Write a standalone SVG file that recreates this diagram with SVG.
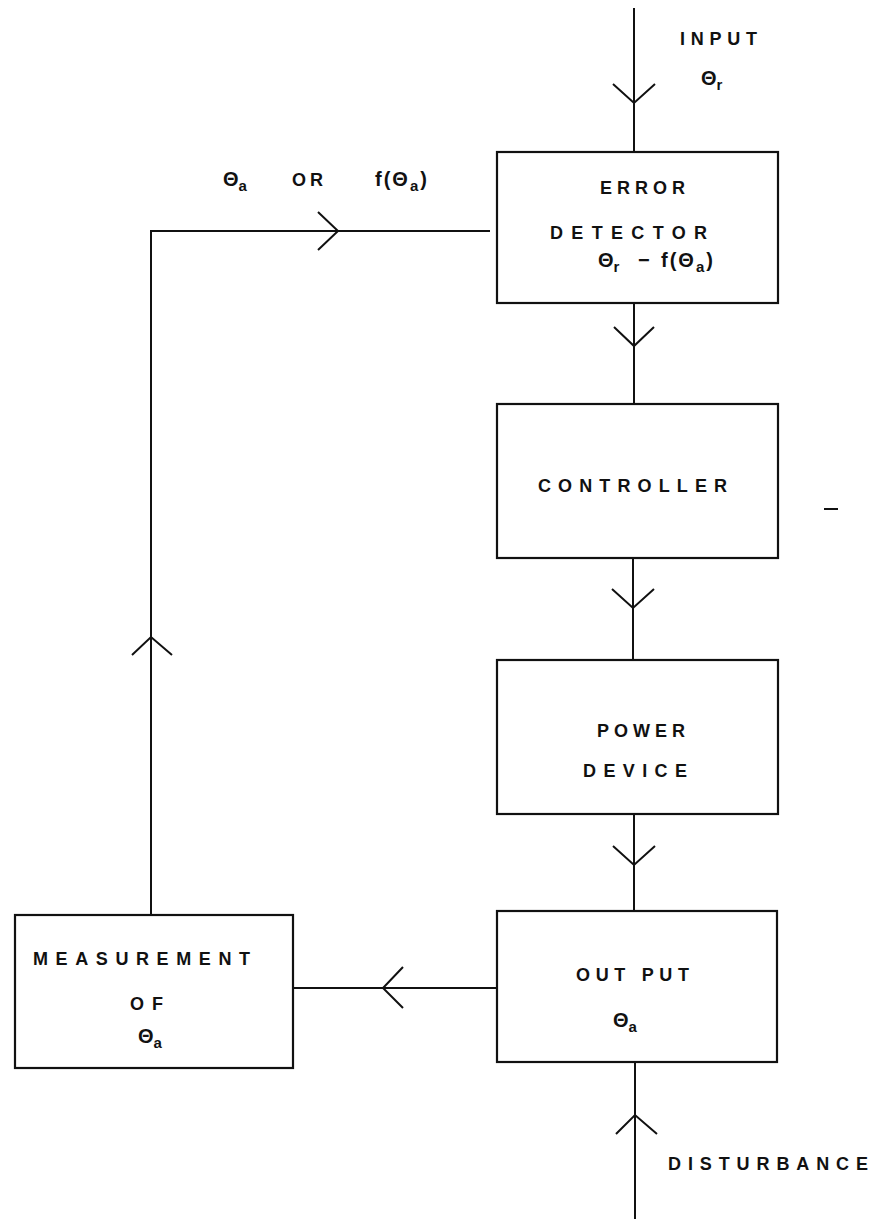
<svg xmlns="http://www.w3.org/2000/svg" width="874" height="1219" viewBox="0 0 874 1219">
<style>
.box{fill:#fff;stroke:#111;stroke-width:2.2}
.ln{fill:none;stroke:#111;stroke-width:2}
.t{font-family:"Liberation Sans",Arial,sans-serif;font-weight:bold;font-size:18px;fill:#111}
.g{font-family:"Liberation Sans",Arial,sans-serif;font-weight:bold;font-size:20px;fill:#111}
.w{letter-spacing:2px}
.s{font-size:15px}
</style>
<rect width="874" height="1219" fill="#fff"/>
<g id="connectors">
<line class="ln" x1="634" y1="8" x2="634" y2="152"/>
<polyline class="ln" points="613,84 634,103 655,84"/>
<line class="ln" x1="634" y1="303" x2="634" y2="404"/>
<polyline class="ln" points="614,327 634,346 654,327"/>
<line class="ln" x1="633" y1="558" x2="633" y2="660"/>
<polyline class="ln" points="612,589 633,608 654,589"/>
<line class="ln" x1="634" y1="814" x2="634" y2="911"/>
<polyline class="ln" points="613,846 634,865 655,846"/>
<line class="ln" x1="635" y1="1062" x2="635" y2="1219"/>
<polyline class="ln" points="616,1134 635,1115 657,1134"/>
<line class="ln" x1="497" y1="988" x2="294" y2="988"/>
<polyline class="ln" points="403,967 383,988 403,1008"/>
<polyline class="ln" points="151,915 151,231 490,231"/>
<polyline class="ln" points="132,655 151,637 172,655"/>
<polyline class="ln" points="318,212 338,231 318,250"/>
<line class="ln" x1="824" y1="509" x2="838" y2="509"/>
</g>
<g id="input-label">
<text class="t" x="680" y="45" textLength="77" lengthAdjust="spacing">INPUT</text>
<text class="g" x="701" y="85">Θ<tspan class="s" dy="5">r</tspan></text>
</g>
<g id="feedback-label">
<text class="g" x="223" y="186">Θ<tspan class="s" dy="5">a</tspan></text>
<text class="t" x="292" y="186" textLength="31" lengthAdjust="spacing">OR</text>
<text class="g w" x="375" y="186">f(Θ<tspan class="s" dy="5">a</tspan><tspan dy="-5">)</tspan></text>
</g>
<g id="error-detector">
<rect class="box" x="497" y="152" width="281" height="151"/>
<text class="t" x="600" y="194" textLength="85" lengthAdjust="spacing">ERROR</text>
<text class="t" x="550" y="239" textLength="157" lengthAdjust="spacing">DETECTOR</text>
<text class="g" x="598" y="267">Θ<tspan class="s" dy="5">r</tspan><tspan dy="-5" x="638">−</tspan><tspan class="w" x="661">f(Θ</tspan><tspan class="s w" dy="5">a</tspan><tspan dy="-5">)</tspan></text>
</g>
<g id="controller">
<rect class="box" x="497" y="404" width="281" height="154"/>
<text class="t" x="538" y="492" textLength="189" lengthAdjust="spacing">CONTROLLER</text>
</g>
<g id="power-device">
<rect class="box" x="497" y="660" width="281" height="154"/>
<text class="t" x="597" y="737" textLength="88" lengthAdjust="spacing">POWER</text>
<text class="t" x="583" y="777" textLength="104" lengthAdjust="spacing">DEVICE</text>
</g>
<g id="output">
<rect class="box" x="497" y="911" width="280" height="151"/>
<text class="t" x="576" y="981" textLength="113" lengthAdjust="spacing">OUT PUT</text>
<text class="g" x="613" y="1027">Θ<tspan class="s" dy="5">a</tspan></text>
</g>
<g id="measurement">
<rect class="box" x="15" y="915" width="278" height="153"/>
<text class="t" x="33" y="965" textLength="217" lengthAdjust="spacing">MEASUREMENT</text>
<text class="t" x="130" y="1010" textLength="33" lengthAdjust="spacing">OF</text>
<text class="g" x="138" y="1043">Θ<tspan class="s" dy="5">a</tspan></text>
</g>
<g id="disturbance-label">
<text class="t" x="668" y="1170" textLength="200" lengthAdjust="spacing">DISTURBANCE</text>
</g>
</svg>
